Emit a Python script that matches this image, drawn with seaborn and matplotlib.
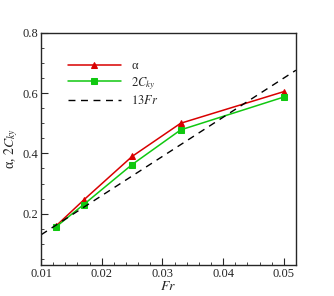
import matplotlib
matplotlib.use('Agg')
import matplotlib.pyplot as plt
import seaborn as sns
import numpy as np
from matplotlib.ticker import MultipleLocator

fr = [0.0125, 0.017, 0.025, 0.033, 0.05]
alpha = [0.160, 0.245, 0.390, 0.500, 0.605]
cky2 = [0.157, 0.230, 0.363, 0.478, 0.587]
fr_line = [0.010, 0.052]

sns.set_style('ticks')
plt.rcParams['font.family'] = ['Liberation Serif', 'DejaVu Serif']
plt.rcParams['mathtext.fontset'] = 'stix'

fig = plt.figure(figsize=(3.34, 2.96), dpi=100)
ax = fig.add_axes([0.123, 0.105, 0.763, 0.784])

sns.lineplot(x=fr, y=alpha, marker='^', color='#d90000', markersize=5, lw=1.1,
             markeredgecolor='#d90000', label='α', ax=ax)
sns.lineplot(x=fr, y=cky2, marker='s', color='#10c810', markersize=4.8, lw=1.1,
             markeredgecolor='#10c810', label=r'$2C_{ky}$', ax=ax)
sns.lineplot(x=fr_line, y=[13 * f for f in fr_line], color='black', lw=1.0,
             linestyle=(0, (5, 4)), label=r'$13Fr$', ax=ax)

ax.set_xlim(0.01, 0.052)
ax.set_ylim(0.03, 0.8)
ax.xaxis.set_major_locator(MultipleLocator(0.01))
ax.xaxis.set_minor_locator(MultipleLocator(0.002))
ax.yaxis.set_major_locator(MultipleLocator(0.2))
ax.yaxis.set_minor_locator(MultipleLocator(0.05))
ax.set_xticks([0.01, 0.02, 0.03, 0.04, 0.05])
ax.set_xticklabels(['0.01', '0.02', '0.03', '0.04', '0.05'])
ax.set_yticks([0.2, 0.4, 0.6, 0.8])
ax.set_yticklabels(['0.2', '0.4', '0.6', '0.8'])
ax.tick_params(which='both', direction='in', top=False, right=False, labelsize=9, pad=2)
ax.tick_params(which='major', length=5, width=0.8)
ax.tick_params(which='minor', length=2.5, width=0.6)
for s in ax.spines.values():
    s.set_linewidth(1.0)

ax.set_xlabel(r'$Fr$', fontsize=10, labelpad=0)
ax.set_ylabel(r'α, $2C_{ky}$', fontsize=10, labelpad=2)

ax.legend(loc='upper left', bbox_to_anchor=(0.06, 0.93), frameon=False, fontsize=9,
          handlelength=4.3, numpoints=1, labelspacing=0.2, handletextpad=0.8)

fig.savefig('out.png', dpi=100)
